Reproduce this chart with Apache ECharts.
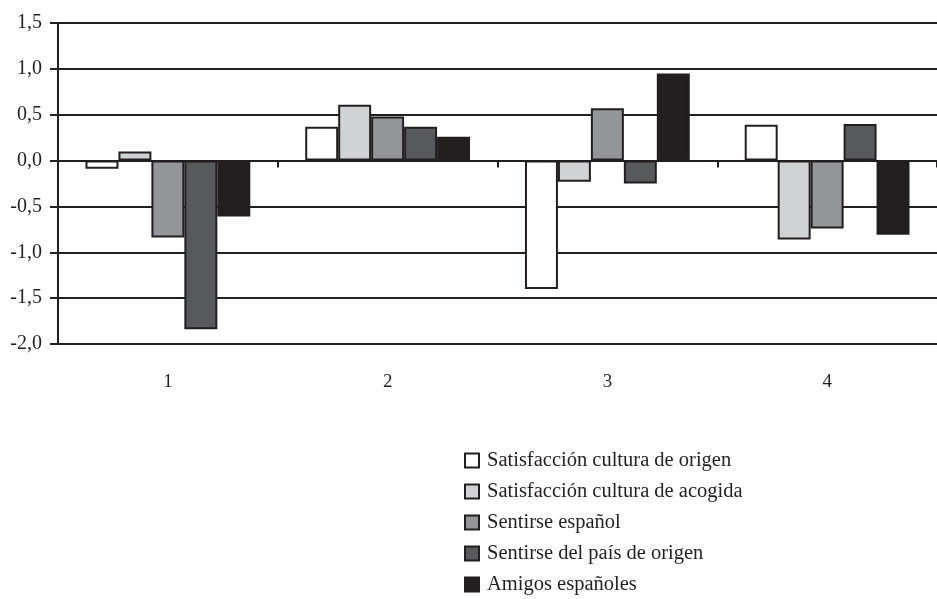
<!DOCTYPE html>
<html>
<head>
<meta charset="utf-8">
<script src="https://cdn.jsdelivr.net/npm/echarts@6/dist/echarts.min.js"></script>
<style>
  html, body { margin: 0; padding: 0; background: #fff; }
  #chart { width: 937px; height: 599px; }
</style>
</head>
<body>
<div id="chart"></div>
<script>
// categorias y valores
var categories = ['1', '2', '3', '4'];
var seriesNames = [
  'Satisfacción cultura de origen',
  'Satisfacción cultura de acogida',
  'Sentirse español',
  'Sentirse del país de origen',
  'Amigos españoles'
];
var satisfOrigen = [-0.09, 0.37, -1.40, 0.39];
var satisfAcogida = [0.10, 0.61, -0.23, -0.86];
var sentirseEspanol = [-0.84, 0.48, 0.57, -0.74];
var sentirsePais = [-1.84, 0.37, -0.25, 0.40];
var amigosEspanoles = [-0.61, 0.26, 0.95, -0.81];
var colors = ['#ffffff', '#d1d2d4', '#939598', '#58595b', '#231f20'];

var ink = '#231f20';
var font = 'Liberation Serif';

var Chart = echarts.init(document.getElementById('chart'));

var values = [satisfOrigen, satisfAcogida, sentirseEspanol, sentirsePais, amigosEspanoles];
var series = seriesNames.map(function (name, i) {
  return {
    name: name,
    type: 'bar',
    xAxisIndex: 0,
    barGap: '0%',
    barCategoryGap: '25%',
    itemStyle: { color: colors[i], borderColor: ink, borderWidth: 2 },
    data: values[i]
  };
});

var option = {
  animation: false,
  grid: { left: 58, top: 23, width: 887, height: 321 },
  legend: {
    orient: 'vertical',
    left: 459,
    top: 445,
    height: 160,
    itemWidth: 14,
    itemHeight: 14,
    itemGap: 10,
    icon: 'rect',
    textStyle: { fontFamily: font, fontSize: 20.5, color: ink, padding: [0, 0, 0, 3] },
    data: seriesNames
  },
  xAxis: [{
    type: 'category',
    data: categories,
    position: 'bottom',
    axisLine: { show: false, onZero: false },
    axisTick: { show: false },
    axisLabel: { margin: 29, fontFamily: font, fontSize: 19, color: ink }
  }, {
    // eje en cero con marcas entre categorias
    type: 'category',
    data: categories,
    position: 'bottom',
    axisLine: { show: true, onZero: true, lineStyle: { color: ink, width: 2 } },
    axisTick: { show: true, length: 7, lineStyle: { color: ink, width: 2 } },
    axisLabel: { show: false }
  }],
  yAxis: {
    type: 'value',
    min: -2,
    max: 1.5,
    interval: 0.5,
    axisLine: { show: true, lineStyle: { color: ink, width: 2 } },
    axisTick: { show: true, length: 8, lineStyle: { color: ink, width: 2 } },
    axisLabel: {
      margin: 16,
      fontFamily: font,
      fontSize: 20,
      color: ink,
      formatter: function (v) { return v.toFixed(1).replace('.', ','); }
    },
    splitLine: { show: true, lineStyle: { color: ink, width: 2 } }
  },
  series: series
};

Chart.setOption(option);
</script>
</body>
</html>
